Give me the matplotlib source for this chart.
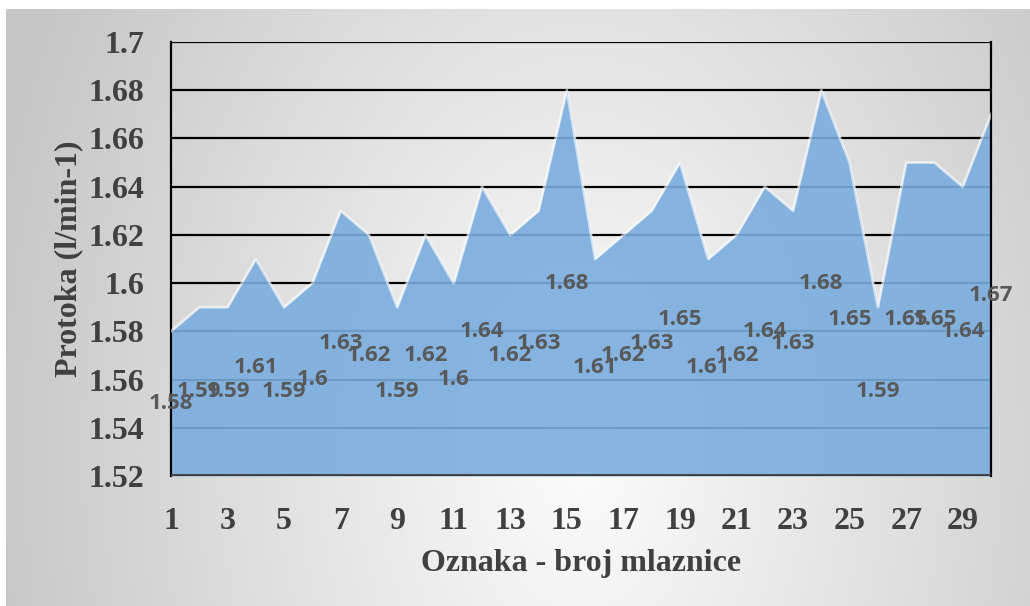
import numpy as np
import matplotlib
matplotlib.use("Agg")
import matplotlib.pyplot as plt

x_labels = list(range(1, 31))
flow = [1.58, 1.59, 1.59, 1.61, 1.59, 1.60, 1.63, 1.62, 1.59, 1.62,
        1.60, 1.64, 1.62, 1.63, 1.68, 1.61, 1.62, 1.63, 1.65, 1.61,
        1.62, 1.64, 1.63, 1.68, 1.65, 1.59, 1.65, 1.65, 1.64, 1.67]
y_min, y_max, y_step = 1.52, 1.70, 0.02
x_title = "Oznaka - broj mlaznice"
y_title = "Protoka (l/min-1)"

W, H = 1030, 606
fig = plt.figure(figsize=(W / 100, H / 100), dpi=100)

# gradient background
bg = fig.add_axes([6 / W, 0, 1 - 6 / W, (H - 9) / H])
bg.set_axis_off()
yy, xx = np.mgrid[9:H, 6:W]
d = np.sqrt(((xx - 580) / 600.0) ** 2 + ((yy - 450) / 900.0) ** 2)
v = np.clip(0.99 - 0.21 * d, 0.78, 1.0)
bg.imshow(np.dstack([v, v, v]), aspect="auto", interpolation="bilinear",
          extent=[0, 1, 0, 1])
bg.set_xlim(0, 1)
bg.set_ylim(0, 1)

ax = fig.add_axes([171 / W, 1 - 476 / H, (991 - 171) / W, (476 - 42) / H])
ax.patch.set_alpha(0)

def fmt(val):
    return f"{val:.2f}".rstrip("0").rstrip(".")

yticks = np.round(np.arange(y_min, y_max + 1e-9, y_step), 2)
for t in yticks[1:]:
    ax.axhline(t, color="black", lw=1.6, zorder=1)

ax.fill_between(x_labels, y_min, flow, color="#7AADDF", alpha=0.9, lw=0, zorder=2)
ax.plot(x_labels, flow, color="white", lw=2, alpha=0.6, zorder=3)
ax.axhline(y_min, color="#3f3f3f", lw=3.5, zorder=4)

for xi, val in zip(x_labels, flow):
    ax.text(xi, (val + y_min) / 2, fmt(val), ha="center", va="center",
            fontsize=16, fontweight="bold", color="#595959",
            family="Open Sans", zorder=5)

ax.set_xlim(1, 30)
ax.set_ylim(y_min, y_max)
ax.set_yticks(yticks)
ax.set_yticklabels([fmt(t) for t in yticks])
ax.set_xticks(x_labels[::2])
ax.set_xticklabels([str(t) for t in x_labels[::2]])

for s in ["left", "right"]:
    ax.spines[s].set_color("black")
    ax.spines[s].set_linewidth(1.6)
ax.spines["top"].set_visible(False)
ax.spines["bottom"].set_visible(False)

tfont = dict(family="Liberation Serif", fontweight="bold", color="#404040")
ax.tick_params(axis="both", length=0, labelsize=23, labelcolor="#404040")
ax.tick_params(axis="y", pad=19)
ax.tick_params(axis="x", pad=22)
for lab in ax.get_xticklabels() + ax.get_yticklabels():
    lab.set_family("Liberation Serif")
    lab.set_fontweight("bold")

ax.set_xlabel(x_title, fontsize=23, labelpad=10, **tfont)
ax.set_ylabel(y_title, fontsize=23, labelpad=4, **tfont)

fig.savefig("out.png", dpi=100)
